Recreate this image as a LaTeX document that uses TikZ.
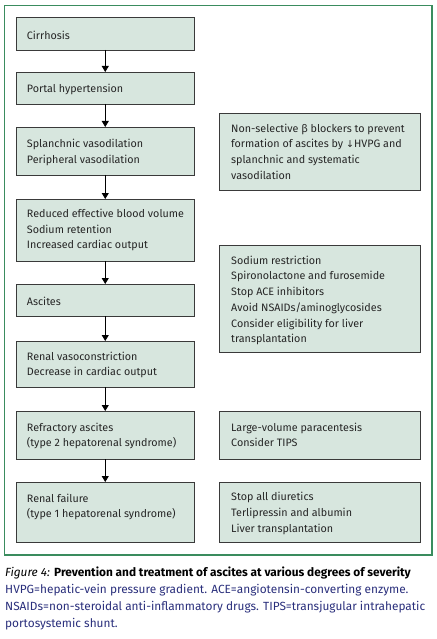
\documentclass[tikz,border=0pt]{standalone}
\usepackage{fontspec}
\setmainfont{Fira Sans}
\newfontfamily\symfont{DejaVu Sans}
\usetikzlibrary{arrows.meta}
\definecolor{framegreen}{HTML}{3A8C5E}
\definecolor{boxfill}{HTML}{D7E6DE}
\definecolor{boxline}{HTML}{3A3A3A}
\definecolor{capblue}{HTML}{2A2F7C}
\tikzset{
  box/.style={draw=boxline, line width=0.9pt, fill=boxfill, anchor=north west, inner sep=0pt, outer sep=0pt},
  lbox/.style={box, minimum width=177.5pt},
  rbox/.style={box, minimum width=201pt},
  txt/.style={anchor=north west, inner sep=0pt, align=left, font=\fontsize{10.75}{15.7}\selectfont, text=black!85},
  flow/.style={line width=0.8pt, -{Triangle[width=7pt,length=6pt]}},
}
\newcommand{\tstrut}{\rule{0pt}{10pt}}
\begin{document}
\begin{tikzpicture}[x=1pt,y=-1pt]
\useasboundingbox (0,0) rectangle (436,639);
\fill[white] (0,0) rectangle (436,639);
\draw[framegreen, line width=1.3pt] (4.5,5.5) rectangle (432,555);
% left boxes
\node[lbox, minimum height=33pt] (b1) at (16.5,17) {};
\node[lbox, minimum height=32pt] (b2) at (16.5,72) {};
\node[lbox, minimum height=48pt] (b3) at (16.5,127) {};
\node[lbox, minimum height=62pt] (b4) at (16.5,199) {};
\node[lbox, minimum height=32pt] (b5) at (16.5,284) {};
\node[lbox, minimum height=46pt] (b6) at (16.5,341) {};
\node[lbox, minimum height=48pt] (b7) at (16.5,411) {};
\node[lbox, minimum height=60pt] (b8) at (16.5,482) {};
% right boxes
\node[rbox, minimum height=77pt] (r1) at (219,113) {};
\node[rbox, minimum height=107pt] (r2) at (219,245) {};
\node[rbox, minimum height=48pt] (r3) at (219,411) {};
\node[rbox, minimum height=60pt] (r4) at (219,482) {};
% texts (anchor = baseline - 10)
\node[txt] (t1) at (26.7,29) {\tstrut Cirrhosis};
\node[txt] (t2) at (26.7,82) {\tstrut Portal hypertension};
\node[txt] (t3) at (26.7,137.5) {\tstrut Splanchnic vasodilation\\Peripheral vasodilation};
\node[txt] (t4) at (26.7,207.3) {\tstrut Reduced effective blood volume\\Sodium retention\\Increased cardiac output};
\node[txt] (t5) at (26.7,295) {\tstrut Ascites};
\node[txt] (t6) at (26.7,350) {\tstrut Renal vasoconstriction\\Decrease in cardiac output};
\node[txt] (t7) at (26.7,421) {\tstrut Refractory ascites\\(type 2 hepatorenal syndrome)};
\node[txt] (t8) at (26.7,492) {\tstrut Renal failure\\(type 1 hepatorenal syndrome)};
\node[txt] (u1) at (231,122) {\tstrut Non-selective β blockers to prevent\\formation of ascites by {\symfont\fontsize{9.5}{15.7}\selectfont ↓}HVPG and\\splanchnic and systematic\\vasodilation};
\node[txt] (u2) at (231,254) {\tstrut Sodium restriction\\Spironolactone and furosemide\\Stop ACE inhibitors\\Avoid NSAIDs/aminoglycosides\\Consider eligibility for liver\\transplantation};
\node[txt] (u3) at (231,421) {\tstrut Large-volume paracentesis\\Consider TIPS};
\node[txt] (u4) at (231,490.7) {\tstrut Stop all diuretics\\Terlipressin and albumin\\Liver transplantation};
% arrows
\draw[flow] (b1) -- (b2);
\draw[flow] (b2) -- (b3);
\draw[flow] (b3) -- (b4);
\draw[flow] (b4) -- (b5);
\draw[flow] (b5) -- (b6);
\draw[flow] (b6) -- (b7);
\draw[flow] (b7) -- (b8);
% caption
\node[anchor=north west, inner sep=0pt, align=left, font=\fontsize{11.85}{16.8}\selectfont] (cap) at (5,566.7)
 {\tstrut\textit{Figure 4:} \textbf{Prevention and treatment of ascites at various degrees of severity}\\
  \color{capblue}HVPG=hepatic-vein pressure gradient. ACE=angiotensin-converting enzyme.\\
  \color{capblue}NSAIDs=non-steroidal anti-inflammatory drugs. TIPS=transjugular intrahepatic\\
  \color{capblue}portosystemic shunt.};
\end{tikzpicture}
\end{document}
